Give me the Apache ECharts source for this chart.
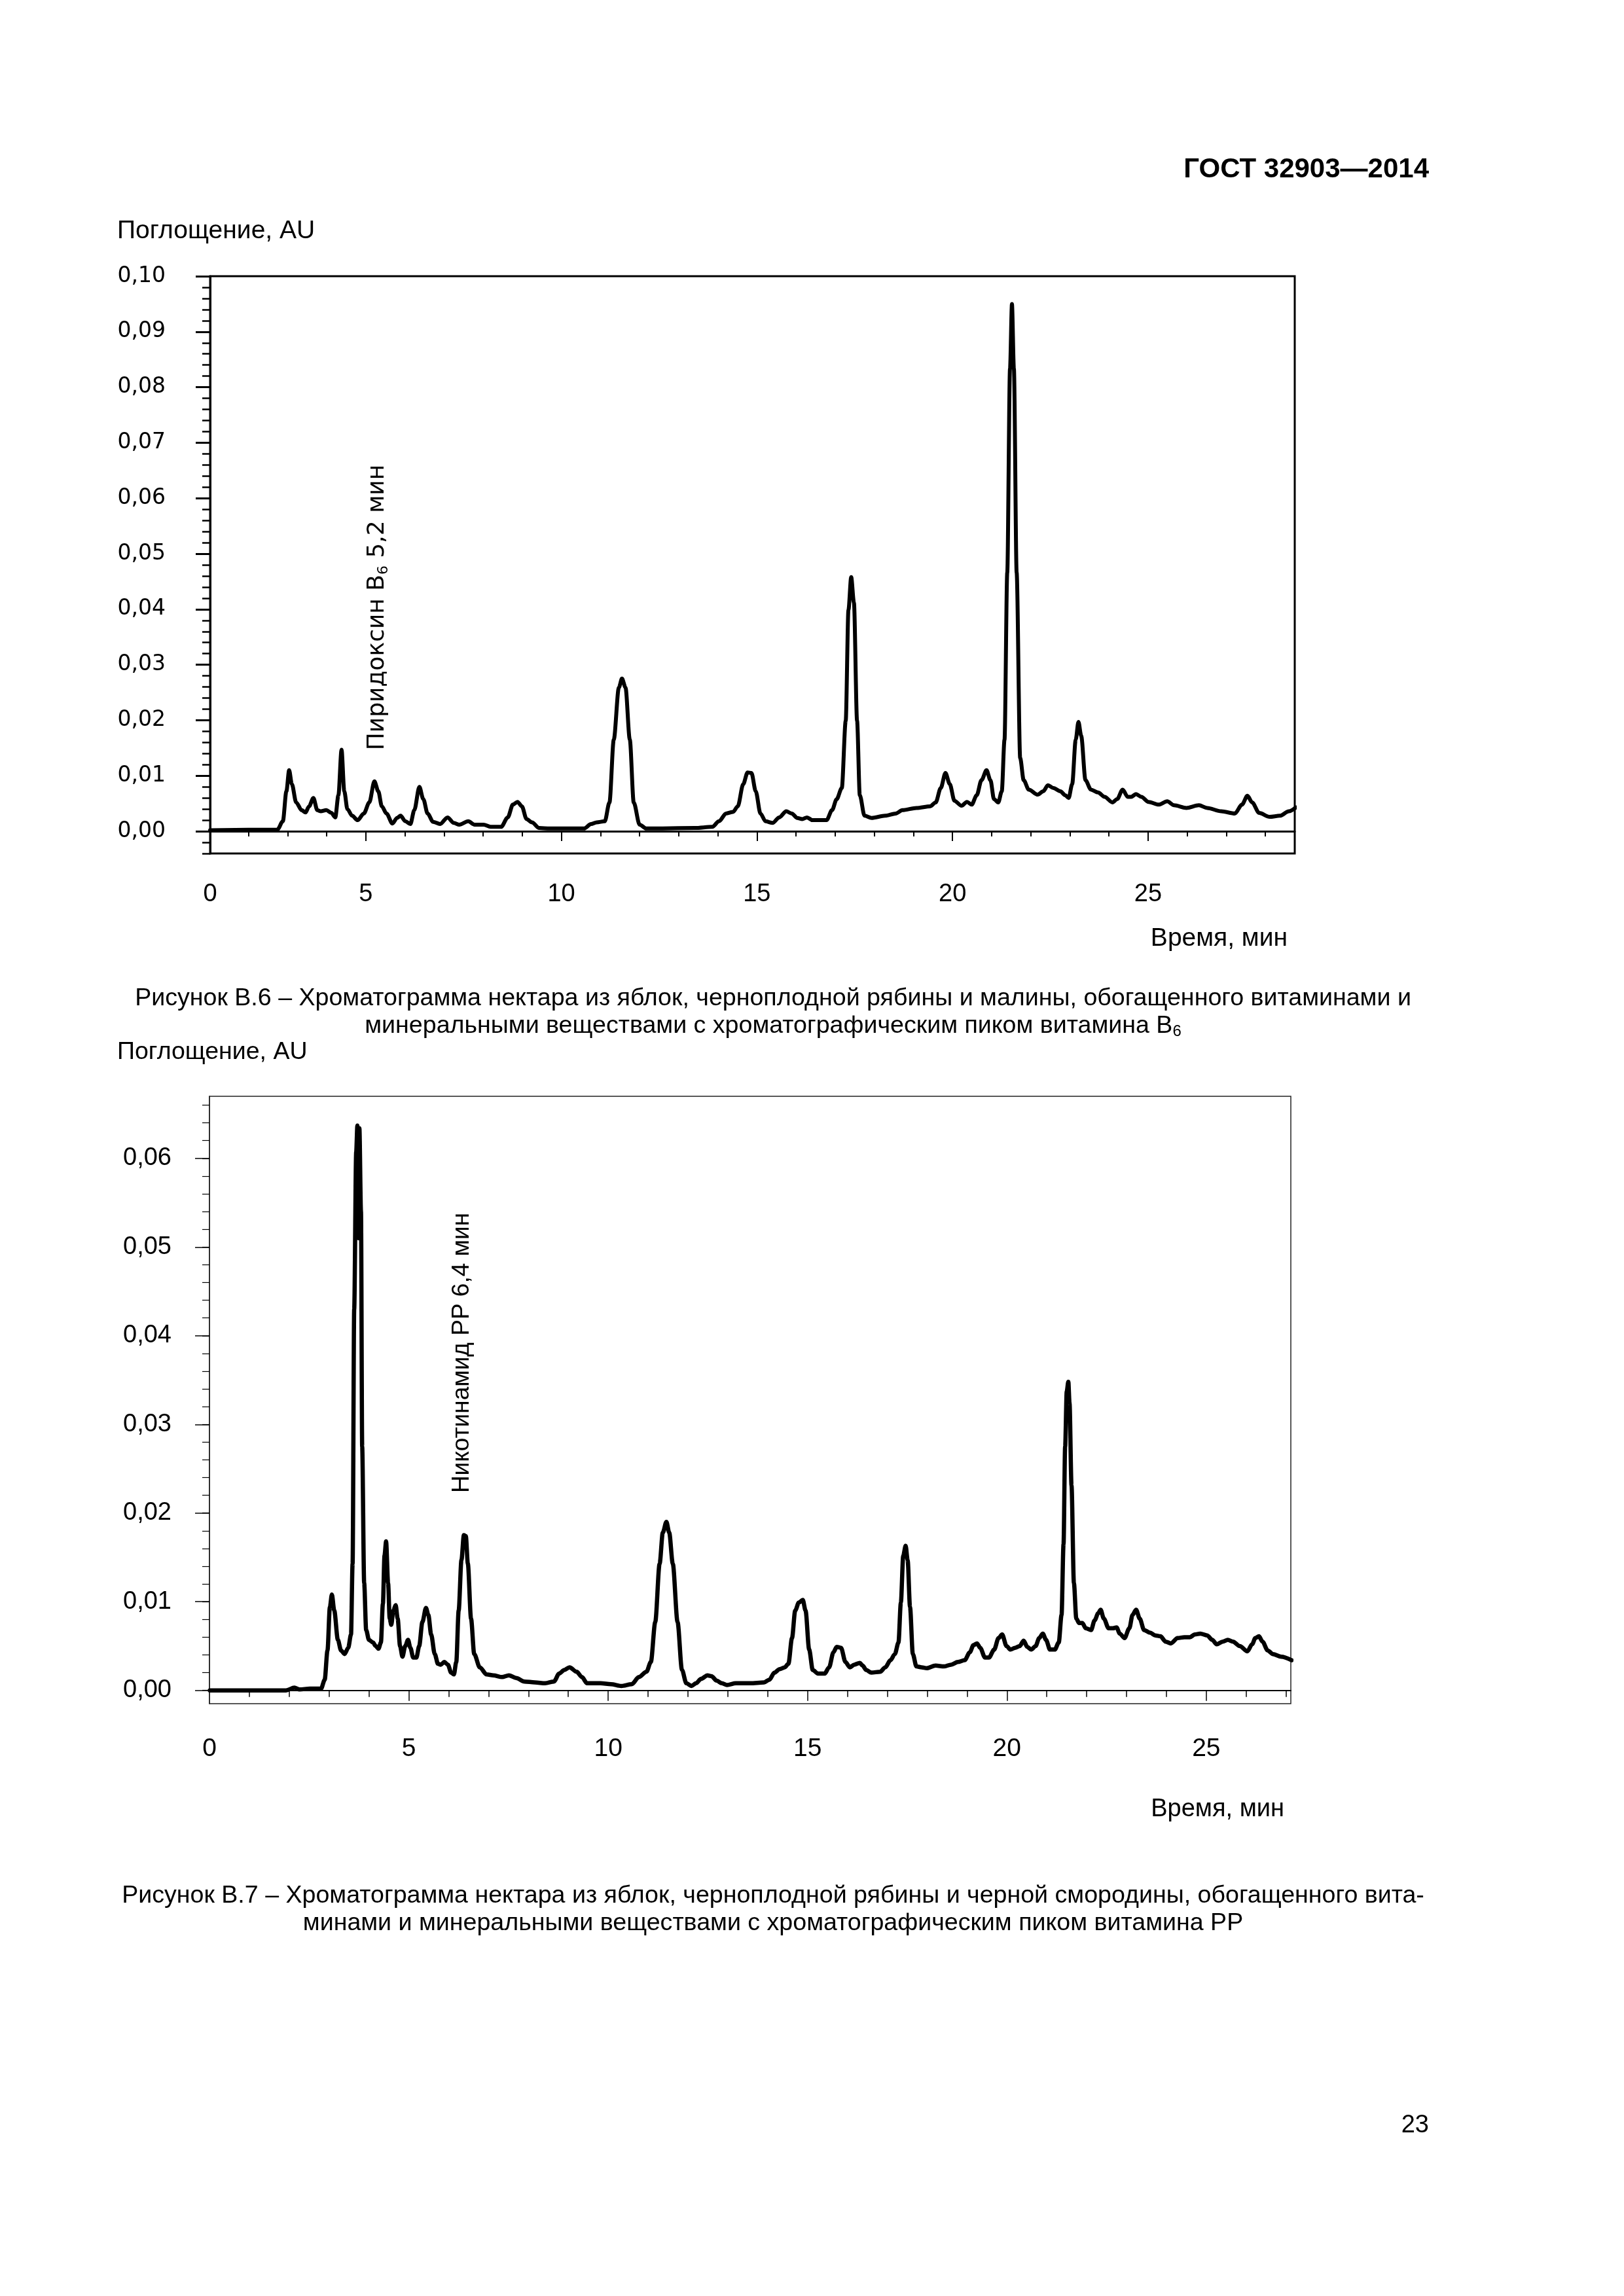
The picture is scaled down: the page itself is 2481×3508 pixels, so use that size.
<!DOCTYPE html>
<html><head><meta charset="utf-8">
<script src="https://cdn.jsdelivr.net/npm/echarts@6/dist/echarts.min.js"></script>
<style>html,body{margin:0;padding:0;background:#fff}#c{width:2481px;height:3508px}</style>
</head><body><div id="c"></div>
<script>
// ---- Data: figure B.6 (time, min ; absorbance, AU) ----
const traceB6 = [
[1.02,0.0002],[2.74,0.0003],[2.88,0.0018],[2.97,0.0072],[3.04,0.0110],[3.11,0.0085],[3.22,0.0052],[3.36,0.0038],[3.46,0.0034],[3.55,0.0045],
[3.66,0.0060],[3.76,0.0038],[3.85,0.0036],[3.99,0.0038],[4.12,0.0033],[4.22,0.0025],[4.30,0.0065],[4.38,0.0147],[4.45,0.0072],[4.53,0.0040],
[4.65,0.0028],[4.79,0.0020],[4.95,0.0032],[5.09,0.0052],[5.22,0.0090],[5.32,0.0072],[5.41,0.0045],[5.53,0.0032],[5.68,0.0014],[5.80,0.0024],
[5.89,0.0028],[6.01,0.0018],[6.14,0.0013],[6.24,0.0038],[6.37,0.0080],[6.47,0.0058],[6.58,0.0032],[6.72,0.0017],[6.90,0.0013],[7.09,0.0025],
[7.25,0.0015],[7.39,0.0012],[7.62,0.0018],[7.78,0.0012],[8.01,0.0012],[8.19,0.0008],[8.46,0.0008],[8.63,0.0025],[8.76,0.0048],[8.88,0.0053],
[8.99,0.0045],[9.11,0.0022],[9.25,0.0016],[9.43,0.0006],[9.70,0.0005],[10.58,0.0005],[10.76,0.0013],[10.90,0.0016],[11.11,0.0018],[11.23,0.0052],
[11.34,0.0165],[11.47,0.0259],[11.55,0.0275],[11.64,0.0259],[11.75,0.0165],[11.85,0.0052],[12.00,0.0012],[12.17,0.0005],[13.41,0.0006],[13.86,0.0008],
[14.03,0.0018],[14.21,0.0032],[14.39,0.0035],[14.51,0.0045],[14.65,0.0085],[14.76,0.0106],[14.86,0.0105],[14.97,0.0072],[15.09,0.0032],[15.22,0.0018],
[15.40,0.0015],[15.57,0.0025],[15.75,0.0036],[15.89,0.0032],[16.03,0.0024],[16.16,0.0022],[16.28,0.0025],[16.42,0.0020],[16.78,0.0020],[16.92,0.0038],
[17.04,0.0058],[17.17,0.0078],[17.27,0.0199],[17.34,0.0399],[17.41,0.0458],[17.48,0.0412],[17.56,0.0199],[17.63,0.0065],[17.75,0.0028],[17.93,0.0024],
[18.28,0.0028],[18.55,0.0032],[18.72,0.0038],[19.08,0.0042],[19.43,0.0045],[19.57,0.0052],[19.70,0.0078],[19.82,0.0105],[19.93,0.0085],[20.05,0.0055],
[20.23,0.0046],[20.37,0.0053],[20.49,0.0048],[20.62,0.0065],[20.74,0.0092],[20.87,0.0110],[20.97,0.0092],[21.06,0.0058],[21.17,0.0052],[21.26,0.0072],
[21.33,0.0165],[21.40,0.0466],[21.47,0.0833],[21.52,0.0950],[21.57,0.0833],[21.64,0.0466],[21.73,0.0132],[21.82,0.0092],[21.95,0.0075],[22.18,0.0066],
[22.32,0.0072],[22.44,0.0083],[22.58,0.0078],[22.76,0.0072],[22.88,0.0065],[22.97,0.0060],[23.06,0.0085],[23.15,0.0165],[23.22,0.0197],[23.29,0.0172],
[23.40,0.0092],[23.54,0.0075],[23.72,0.0070],[23.89,0.0062],[24.09,0.0052],[24.21,0.0058],[24.35,0.0075],[24.48,0.0062],[24.57,0.0062],[24.69,0.0067],
[24.83,0.0062],[25.01,0.0053],[25.27,0.0048],[25.49,0.0054],[25.66,0.0047],[25.98,0.0042],[26.30,0.0047],[26.51,0.0042],[26.87,0.0036],[27.22,0.0032],
[27.40,0.0048],[27.54,0.0064],[27.66,0.0052],[27.84,0.0033],[28.11,0.0026],[28.37,0.0028],[28.60,0.0036],[28.78,0.0043]
];
// ---- Data: figure B.7 ----
const traceB7 = [
[0.01,0.0000],[0.87,0.0000],[1.92,0.0000],[2.13,0.0003],[2.26,0.0001],[2.52,0.0002],[2.80,0.0002],[2.89,0.0012],[2.96,0.0045],[3.02,0.0094],
[3.07,0.0108],[3.13,0.0090],[3.22,0.0057],[3.30,0.0045],[3.39,0.0041],[3.48,0.0048],[3.55,0.0063],[3.59,0.0143],[3.63,0.0430],[3.68,0.0607],
[3.71,0.0637],[3.74,0.0510],[3.76,0.0634],[3.80,0.0540],[3.83,0.0275],[3.88,0.0121],[3.93,0.0068],[4.00,0.0057],[4.10,0.0054],[4.17,0.0050],
[4.24,0.0047],[4.30,0.0054],[4.35,0.0098],[4.39,0.0152],[4.43,0.0168],[4.48,0.0121],[4.52,0.0081],[4.56,0.0074],[4.61,0.0090],[4.67,0.0096],
[4.72,0.0081],[4.78,0.0050],[4.84,0.0038],[4.91,0.0050],[4.98,0.0057],[5.04,0.0048],[5.11,0.0037],[5.19,0.0037],[5.26,0.0050],[5.34,0.0077],
[5.43,0.0093],[5.49,0.0085],[5.56,0.0063],[5.65,0.0041],[5.73,0.0030],[5.80,0.0029],[5.89,0.0032],[5.98,0.0029],[6.06,0.0020],[6.13,0.0018],
[6.19,0.0032],[6.25,0.0090],[6.32,0.0147],[6.38,0.0175],[6.43,0.0174],[6.48,0.0143],[6.56,0.0081],[6.64,0.0041],[6.78,0.0026],[6.95,0.0018],
[7.12,0.0017],[7.34,0.0015],[7.51,0.0017],[7.69,0.0014],[7.90,0.0010],[8.16,0.0009],[8.42,0.0008],[8.64,0.0010],[8.77,0.0019],[8.90,0.0023],
[9.03,0.0026],[9.21,0.0021],[9.34,0.0015],[9.47,0.0008],[9.81,0.0008],[10.07,0.0007],[10.33,0.0005],[10.59,0.0007],[10.77,0.0015],[10.96,0.0021],
[11.07,0.0032],[11.18,0.0077],[11.29,0.0143],[11.37,0.0178],[11.46,0.0190],[11.53,0.0178],[11.62,0.0143],[11.74,0.0077],[11.85,0.0023],[11.96,0.0008],
[12.09,0.0005],[12.20,0.0008],[12.33,0.0013],[12.49,0.0017],[12.59,0.0016],[12.72,0.0011],[12.85,0.0008],[12.98,0.0006],[13.20,0.0008],[13.56,0.0008],
[13.91,0.0009],[14.04,0.0012],[14.17,0.0020],[14.30,0.0024],[14.43,0.0026],[14.52,0.0030],[14.61,0.0059],[14.69,0.0090],[14.78,0.0099],[14.88,0.0102],
[14.95,0.0090],[15.04,0.0046],[15.13,0.0023],[15.26,0.0019],[15.43,0.0019],[15.54,0.0026],[15.65,0.0043],[15.73,0.0049],[15.84,0.0048],[15.95,0.0032],
[16.06,0.0026],[16.17,0.0029],[16.31,0.0031],[16.38,0.0028],[16.47,0.0023],[16.60,0.0020],[16.82,0.0021],[16.95,0.0026],[17.08,0.0034],[17.19,0.0041],
[17.28,0.0054],[17.34,0.0099],[17.40,0.0152],[17.46,0.0163],[17.51,0.0147],[17.57,0.0094],[17.64,0.0041],[17.73,0.0027],[17.86,0.0026],[17.99,0.0025],
[18.21,0.0028],[18.42,0.0027],[18.60,0.0029],[18.77,0.0032],[18.94,0.0034],[19.07,0.0043],[19.16,0.0051],[19.25,0.0053],[19.33,0.0048],[19.45,0.0037],
[19.55,0.0037],[19.68,0.0046],[19.79,0.0059],[19.88,0.0063],[19.99,0.0050],[20.09,0.0046],[20.20,0.0048],[20.32,0.0050],[20.42,0.0056],[20.51,0.0049],
[20.61,0.0046],[20.72,0.0050],[20.81,0.0059],[20.90,0.0064],[20.98,0.0057],[21.08,0.0046],[21.20,0.0046],[21.30,0.0054],[21.37,0.0085],[21.42,0.0165],
[21.46,0.0275],[21.50,0.0337],[21.54,0.0348],[21.57,0.0324],[21.62,0.0231],[21.68,0.0121],[21.74,0.0081],[21.81,0.0076],[21.89,0.0076],[21.98,0.0070],
[22.11,0.0068],[22.20,0.0079],[22.29,0.0087],[22.35,0.0091],[22.43,0.0081],[22.55,0.0070],[22.66,0.0070],[22.75,0.0071],[22.83,0.0064],[22.95,0.0059],
[23.07,0.0070],[23.15,0.0085],[23.24,0.0091],[23.33,0.0081],[23.44,0.0068],[23.59,0.0065],[23.72,0.0062],[23.85,0.0061],[23.98,0.0055],[24.11,0.0053],
[24.28,0.0059],[24.45,0.0060],[24.59,0.0060],[24.71,0.0063],[24.85,0.0064],[25.02,0.0062],[25.15,0.0057],[25.26,0.0052],[25.41,0.0055],[25.54,0.0057],
[25.67,0.0055],[25.84,0.0050],[26.03,0.0044],[26.15,0.0052],[26.23,0.0059],[26.32,0.0061],[26.41,0.0055],[26.54,0.0045],[26.67,0.0041],[26.88,0.0038],
[27.14,0.0034]
];
// ---- Tick labels ----
const yTicksB6 = [0,0.01,0.02,0.03,0.04,0.05,0.06,0.07,0.08,0.09,0.10];
const yTicksB7 = [0,0.01,0.02,0.03,0.04,0.05,0.06];
const xTicksB6 = [0,5,10,15,20,25];
const xTicksB7 = [0,5,10,15,20,25];

const X6MIN = 1.02, X6MAX = 28.75, Y6MIN = -0.004, Y6MAX = 0.10;
const X7MIN = 0, X7MAX = 27.12, Y7MIN = -0.0015, Y7MAX = 0.067;

function range(a, b, s) { const r = []; for (let v = a; v <= b + 1e-9; v += s) r.push(+v.toFixed(4)); return r; }
const fmtY = v => (+v).toFixed(2).replace('.', ',');
const fmtX = v => String(Math.round(v / 5) * 5);
const SANS = "'Liberation Sans', Arial, sans-serif";
const WIDE = "'DejaVu Sans', sans-serif";

const chart = echarts.init(document.getElementById('c'), null, {renderer: 'canvas'});

function txt(x, y, text, size, opts) {
  opts = opts || {};
  return {
    type: 'text', x: x, y: y, rotation: opts.rotation || 0, silent: true,
    style: {
      text: text, fill: '#000', fontSize: size, fontFamily: opts.family || SANS,
      fontWeight: opts.weight || 'normal',
      textAlign: opts.align || 'left', align: opts.align || 'left',
      textVerticalAlign: 'middle', verticalAlign: 'middle',
      rich: opts.rich
    }
  };
}

const option = {
  backgroundColor: '#fff',
  animation: false,
  grid: [
    {left: 321, top: 422, width: 1657, height: 882, show: true, borderColor: '#000', borderWidth: 3, backgroundColor: 'transparent'},
    {left: 320, top: 1675, width: 1652, height: 928, show: true, borderColor: '#222', borderWidth: 1.5, backgroundColor: 'transparent'}
  ],
  xAxis: [
    {gridIndex: 0, type: 'value', min: X6MIN, max: X6MAX, position: 'bottom',
     axisLine: {show: true, lineStyle: {color: '#000', width: 3}},
     axisTick: {show: true, customValues: [5,10,15,20,25], length: 15, lineStyle: {color: '#000', width: 2}},
     axisLabel: {customValues: xTicksB6.map(v => Math.max(v, X6MIN)), formatter: fmtX, margin: 44, fontSize: 38, fontFamily: SANS, color: '#000'},
     splitLine: {show: false}},
    {gridIndex: 0, type: 'value', min: X6MIN, max: X6MAX, position: 'bottom',
     axisLine: {show: false},
     axisTick: {show: true, customValues: range(2, 28, 1), length: 8, lineStyle: {color: '#000', width: 2}},
     axisLabel: {show: false}, splitLine: {show: false}},
    {gridIndex: 1, type: 'value', min: X7MIN, max: X7MAX, position: 'bottom',
     axisLine: {show: true, lineStyle: {color: '#000', width: 2}},
     axisTick: {show: true, customValues: [5,10,15,20,25], length: 16, lineStyle: {color: '#000', width: 1.5}},
     axisLabel: {customValues: xTicksB7, formatter: fmtX, margin: 50, fontSize: 39, fontFamily: SANS, color: '#000'},
     splitLine: {show: false}},
    {gridIndex: 1, type: 'value', min: X7MIN, max: X7MAX, position: 'bottom',
     axisLine: {show: false},
     axisTick: {show: true, customValues: range(1, 27, 1), length: 10, lineStyle: {color: '#000', width: 1.5}},
     axisLabel: {show: false}, splitLine: {show: false}}
  ],
  yAxis: [
    {gridIndex: 0, type: 'value', min: Y6MIN, max: Y6MAX, position: 'left',
     axisLine: {show: true, lineStyle: {color: '#000', width: 3}},
     axisTick: {show: true, customValues: yTicksB6, length: 22, lineStyle: {color: '#000', width: 3}},
     axisLabel: {customValues: yTicksB6, formatter: fmtY, margin: 68, fontSize: 33, fontFamily: WIDE, color: '#000'},
     splitLine: {show: false}},
    {gridIndex: 0, type: 'value', min: Y6MIN, max: Y6MAX, position: 'left',
     axisLine: {show: false},
     axisTick: {show: true, customValues: range(-0.004, 0.1, 0.002), length: 12, lineStyle: {color: '#000', width: 2.5}},
     axisLabel: {show: false}, splitLine: {show: false}},
    {gridIndex: 1, type: 'value', min: Y7MIN, max: Y7MAX, position: 'left',
     axisLine: {show: true, lineStyle: {color: '#222', width: 1.5}},
     axisTick: {show: true, customValues: yTicksB7, length: 22, lineStyle: {color: '#000', width: 1.5}},
     axisLabel: {customValues: yTicksB7, formatter: fmtY, margin: 58, fontSize: 38, fontFamily: SANS, color: '#000'},
     splitLine: {show: false}},
    {gridIndex: 1, type: 'value', min: Y7MIN, max: Y7MAX, position: 'left',
     axisLine: {show: false},
     axisTick: {show: true, customValues: range(0, 0.066, 0.002), length: 11, lineStyle: {color: '#000', width: 1.2}},
     axisLabel: {show: false}, splitLine: {show: false}}
  ],
  series: [
    {type: 'line', xAxisIndex: 0, yAxisIndex: 0, data: traceB6, showSymbol: false, smooth: 0.3, smoothMonotone: 'x',
     lineStyle: {color: '#000', width: 6, join: 'round', cap: 'round'}, clip: true},
    {type: 'line', xAxisIndex: 2, yAxisIndex: 2, data: traceB7, showSymbol: false, smooth: 0.3, smoothMonotone: 'x',
     lineStyle: {color: '#000', width: 6.5, join: 'round', cap: 'round'}, clip: true}
  ],
  graphic: [
    txt(2183, 259, 'ГОСТ 32903—2014', 42, {align: 'right', weight: 'bold'}),
    txt(179, 353, 'Поглощение, AU', 39),
    txt(1967, 1434, 'Время, мин', 39, {align: 'right'}),
    txt(577, 928, '{a|Пиридоксин B}{s|6}{a| 5,2 мин}', 35, {align: 'center', rotation: Math.PI / 2,
      rich: {a: {fontSize: 36, fontFamily: WIDE, fill: '#000', lineHeight: 40},
             s: {fontSize: 22, fontFamily: WIDE, fill: '#000', lineHeight: 18, verticalAlign: 'bottom'}}}),
    txt(1181, 1526, 'Рисунок В.6 – Хроматограмма нектара из яблок, черноплодной рябины и малины, обогащенного витаминами и', 37.6, {align: 'center'}),
    txt(1181, 1568, '{a|минеральными веществами с хроматографическим пиком витамина B}{s|6}', 37.6, {align: 'center',
      rich: {a: {fontSize: 37.6, fontFamily: SANS, fill: '#000', lineHeight: 40},
             s: {fontSize: 24, fontFamily: SANS, fill: '#000', lineHeight: 18, verticalAlign: 'bottom'}}}),
    txt(179, 1608, 'Поглощение, AU', 37.5),
    txt(706, 2067, 'Никотинамид PP 6,4 мин', 37, {align: 'center', rotation: Math.PI / 2}),
    txt(1962, 2765, 'Время, мин', 38, {align: 'right'}),
    txt(1181, 2897, 'Рисунок В.7 – Хроматограмма нектара из яблок, черноплодной рябины и черной смородины, обогащенного вита-', 37.6, {align: 'center'}),
    txt(1181, 2939, 'минами и минеральными веществами с хроматографическим пиком витамина PP', 37.6, {align: 'center'}),
    txt(2183, 3248, '23', 38, {align: 'right'})
  ]
};
chart.setOption(option);
</script>
</body></html>
